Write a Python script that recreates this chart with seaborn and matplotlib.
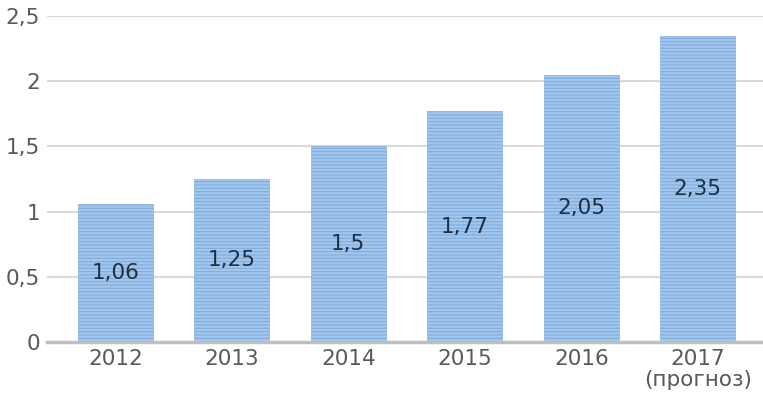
import matplotlib
matplotlib.use("Agg")
import matplotlib.pyplot as plt
import seaborn as sns
import pandas as pd

years = ["2012", "2013", "2014", "2015", "2016", "2017\n(прогноз)"]
values = [1.06, 1.25, 1.5, 1.77, 2.05, 2.35]
labels = ["1,06", "1,25", "1,5", "1,77", "2,05", "2,35"]
yticks = [0, 0.5, 1, 1.5, 2, 2.5]
ytick_labels = ["0", "0,5", "1", "1,5", "2", "2,5"]

sns.set_style("white")
plt.rcParams['font.family'] = ['DejaVu Sans']
plt.rcParams['hatch.linewidth'] = 0.7

df = pd.DataFrame({"year": years, "value": values})

fig = plt.figure(figsize=(7.63, 4.07), dpi=100)
ax = fig.add_axes([47/763, 1-342/407, 1-47/763, (342-16)/407])

sns.barplot(data=df, x="year", y="value", ax=ax, color="#a3c6ec",
            width=0.645, saturation=1, edgecolor="#7aa8dd", linewidth=0.4,
            hatch="-----", zorder=2)

for i, (v, lab) in enumerate(zip(values, labels)):
    ax.text(i, v/2, lab, ha="center", va="center", fontsize=15.5,
            color="#1d2f45", zorder=3)

ax.set_ylim(0, 2.5)
ax.set_xlim(-0.586, 5.56)
ax.set_yticks(yticks)
ax.set_yticklabels(ytick_labels)
ax.yaxis.grid(True, color="#d9d9d9", linewidth=1.5, zorder=0)
ax.set_axisbelow(True)
for s in ["top", "right", "left"]:
    ax.spines[s].set_visible(False)
ax.spines["bottom"].set_color("#bfbfbf")
ax.spines["bottom"].set_linewidth(2.5)
ax.spines["bottom"].set_zorder(4)
ax.tick_params(axis="both", length=0, labelsize=15.5, labelcolor="#595959")
ax.tick_params(axis="x", pad=5)
ax.tick_params(axis="y", pad=5)
for t in ax.get_xticklabels():
    t.set_linespacing(1.05)
ax.set_xlabel("")
ax.set_ylabel("")

fig.savefig("out.png", dpi=100)
